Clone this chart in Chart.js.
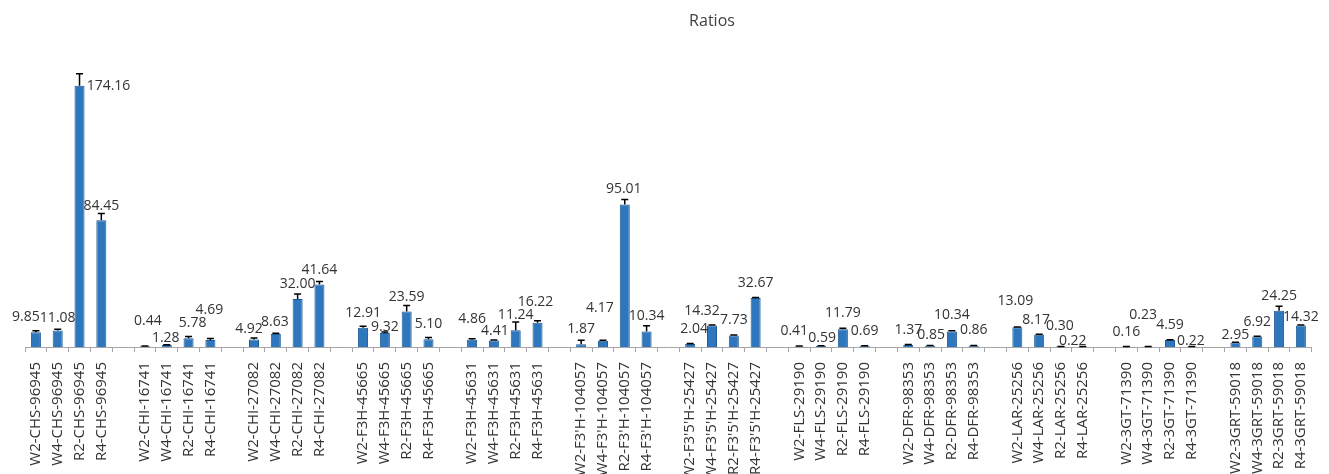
<!DOCTYPE html>
<html>
<head>
<meta charset="utf-8">
<script src="https://cdn.jsdelivr.net/npm/chart.js@4"></script>
<style>
  body { margin: 0; background: #fff; }
  #wrap { width: 1329px; height: 474px; position: relative; }
</style>
</head>
<body>
<div id="wrap"><canvas id="ratioChart"></canvas></div>
<script>
const genes = ['CHS-96945', 'CHI-16741', 'CHI-27082', 'F3H-45665', 'F3H-45631', "F3'H-104057",
  "F3'5'H-25427", 'FLS-29190', 'DFR-98353', 'LAR-25256', '3GT-71390', '3GRT-59018'];
const samples = ['W2', 'W4', 'R2', 'R4'];

const ratios = [
  9.85, 11.08, 174.16, 84.45,
  0.44, 1.28, 5.78, 4.69,
  4.92, 8.63, 32.00, 41.64,
  12.91, 9.32, 23.59, 5.10,
  4.86, 4.41, 11.24, 16.22,
  1.87, 4.17, 95.01, 10.34,
  2.04, 14.32, 7.73, 32.67,
  0.41, 0.59, 11.79, 0.69,
  1.37, 0.85, 10.34, 0.86,
  13.09, 8.17, 0.30, 0.22,
  0.16, 0.23, 4.59, 0.22,
  2.95, 6.92, 24.25, 14.32
];

const errors = [
  1.0, 0.7, 8.0, 4.5,
  0.3, 0.3, 1.2, 1.0,
  1.0, 0.5, 3.3, 2.0,
  1.0, 0.7, 4.0, 1.3,
  0.7, 0.3, 5.5, 1.3,
  2.7, 0.3, 3.3, 3.8,
  0.3, 0.3, 0.3, 0.3,
  0.2, 0.2, 0.7, 0.2,
  0.3, 0.2, 0.5, 0.2,
  0.3, 0.3, 0.1, 0.1,
  0.1, 0.1, 0.3, 0.1,
  0.3, 0.3, 2.9, 0.3
];

// hand nudges for value labels that were moved to avoid overlaps (px)
const labelDx = [
  -10, 0, 29, 0,
  3, -1, 4, -1,
  -5, -1, 0, 0,
  0, 0, 0, 0,
  0, 1, 0, -2,
  0, -3, -1, 0,
  4, -10, 0, 0,
  -5, 1, 0, 0,
  0, 1, 0, 0,
  -2, -3, -1, -10,
  0, -5, 0, -1,
  0, 0, 0, 0
];
const labelDy = [
  0, 3, 15, 1,
  -10, 8, 0, -15,
  4, 3, 0, 0,
  0, 9, 0, 0,
  -6, 6, 0, -6,
  0, -18, 0, 0,
  0, 0, 0, 0,
  0, 7, -1, 0,
  0, 4, -1, -1,
  -11, 0, -6, 9,
  0, -17, 0, 9,
  7, 0, 0, 6
];

// one empty slot between gene groups
const labels = [];
const values = [];
const errs = [];
const barIndex = [];
genes.forEach((g, gi) => {
  samples.forEach((s, si) => {
    const k = gi * samples.length + si;
    labels.push(s + '-' + g);
    values.push(ratios[k]);
    errs.push(errors[k]);
    barIndex.push(k);
  });
  if (gi < genes.length - 1) {
    labels.push('');
    values.push(null);
    errs.push(null);
    barIndex.push(-1);
  }
});

Chart.defaults.font.family = '"Open Sans", "DejaVu Sans", sans-serif';
Chart.defaults.color = '#404040';

const extras = {
  id: 'extras',
  afterDatasetsDraw(chart) {
    const ctx = chart.ctx;
    const y = chart.scales.y;
    const meta = chart.getDatasetMeta(0);
    ctx.save();
    // error bars (upper only)
    ctx.strokeStyle = '#000';
    ctx.lineWidth = 1.5;
    meta.data.forEach((bar, i) => {
      if (values[i] == null) return;
      const top = y.getPixelForValue(values[i] + errs[i]);
      ctx.beginPath();
      ctx.moveTo(bar.x, bar.y);
      ctx.lineTo(bar.x, top);
      ctx.moveTo(bar.x - 3.5, top);
      ctx.lineTo(bar.x + 3.5, top);
      ctx.stroke();
    });
    // value labels
    ctx.fillStyle = '#333';
    ctx.font = '14px "Open Sans", sans-serif';
    ctx.textAlign = 'center';
    ctx.textBaseline = 'middle';
    meta.data.forEach((bar, i) => {
      const k = barIndex[i];
      if (k < 0) return;
      ctx.fillText(ratios[k].toFixed(2), bar.x + labelDx[k], bar.y - 15 + labelDy[k]);
    });
    // title
    ctx.fillStyle = '#404040';
    ctx.font = '16px "Open Sans", sans-serif';
    ctx.fillText('Ratios', 712, 21);
    ctx.restore();
  }
};

new Chart(document.getElementById('ratioChart'), {
  type: 'bar',
  data: {
    labels: labels,
    datasets: [{
      data: values,
      backgroundColor: '#2f77bd',
      borderColor: '#1f5a94',
      borderWidth: 1,
      categoryPercentage: 1,
      barPercentage: 0.46
    }]
  },
  options: {
    responsive: true,
    maintainAspectRatio: false,
    animation: false,
    layout: { padding: { left: 25, right: 15, top: 62, bottom: 0 } },
    plugins: {
      legend: { display: false },
      tooltip: { enabled: false }
    },
    scales: {
      x: {
        grid: {
          offset: true,
          drawOnChartArea: false,
          drawTicks: true,
          tickLength: 5,
          color: '#a6a6a6'
        },
        border: { color: '#a6a6a6' },
        ticks: {
          autoSkip: false,
          minRotation: 90,
          maxRotation: 90,
          padding: 10,
          color: '#333',
          font: { size: 15 }
        },
        afterFit(scale) { scale.height = 127; }
      },
      y: {
        display: false,
        min: 0,
        max: 190
      }
    }
  },
  plugins: [extras]
});
</script>
</body>
</html>
